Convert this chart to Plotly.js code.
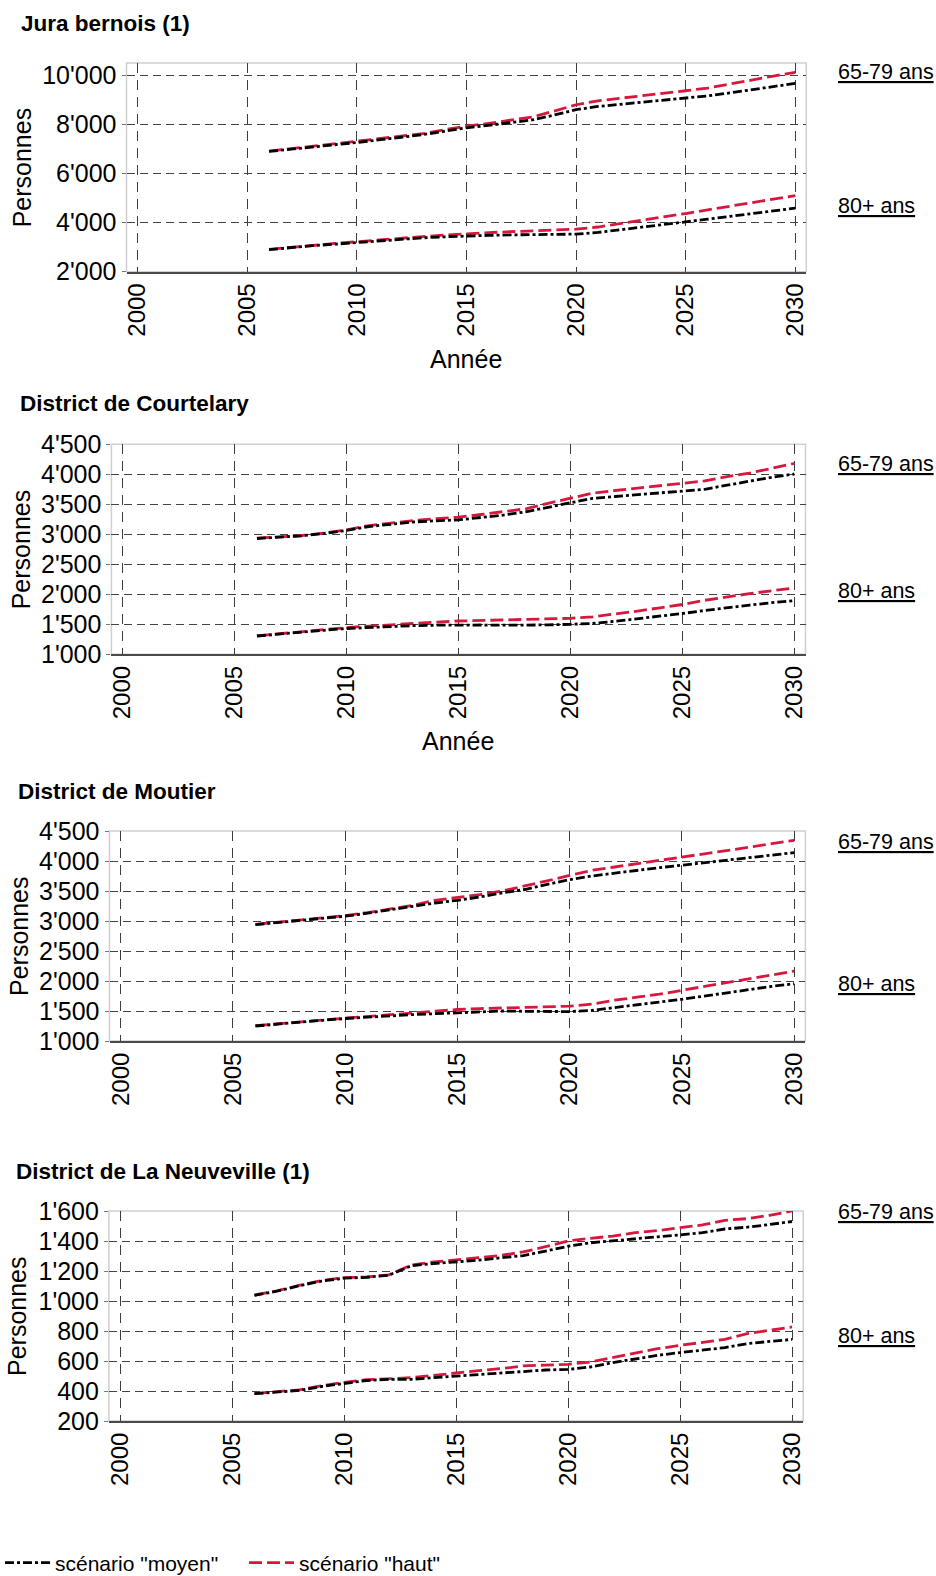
<!DOCTYPE html>
<html>
<head>
<meta charset="utf-8">
<script src="https://cdn.plot.ly/plotly-3.0.1.min.js"></script>
<style>
html,body{margin:0;padding:0;background:#fff;width:936px;height:1576px;overflow:hidden;}
#chart{display:block;width:936px;height:1576px;overflow:hidden;}
</style>
</head>
<body>
<div id="chart"></div>
<script>
// ---------- DATA ----------
const years = [2006,2007,2008,2009,2010,2011,2012,2013,2014,2015,2016,2017,2018,2019,2020,2021,2022,2023,2024,2025,2026,2027,2028,2029,2030];
const regionNames = ["Jura bernois (1)", "District de Courtelary", "District de Moutier", "District de La Neuveville (1)"];
const ageGroups = ["65-79 ans", "80+ ans"];
const scenarioNames = ['scénario "moyen"', 'scénario "haut"'];
const xTickVals = [2000, 2005, 2010, 2015, 2020, 2025, 2030];

// Jura bernois
const jura_6579_moyen = [6900,7000,7080,7170,7260,7360,7460,7580,7720,7860,7960,8060,8180,8380,8600,8730,8810,8890,8970,9060,9160,9280,9400,9530,9670];
const jura_6579_haut  = [6910,7010,7100,7190,7290,7390,7500,7620,7780,7930,8040,8160,8300,8540,8800,8960,9060,9150,9250,9370,9480,9630,9800,9970,10120];
const jura_80_moyen   = [2900,2990,3060,3120,3190,3260,3320,3380,3420,3460,3480,3500,3510,3520,3530,3600,3700,3800,3910,4030,4140,4260,4370,4480,4590];
const jura_80_haut    = [2910,3000,3080,3150,3220,3300,3370,3430,3490,3550,3590,3630,3670,3700,3730,3820,3950,4080,4220,4370,4520,4670,4820,4960,5100];

// District de Courtelary
const court_6579_moyen = [2930,2950,2975,3015,3065,3130,3170,3205,3225,3240,3280,3320,3375,3450,3515,3600,3630,3660,3690,3720,3750,3820,3890,3950,4005];
const court_6579_haut  = [2935,2955,2980,3020,3075,3145,3190,3230,3260,3285,3330,3380,3425,3515,3600,3685,3730,3770,3810,3850,3890,3960,4020,4100,4180];
const court_80_moyen   = [1305,1340,1375,1400,1430,1450,1465,1478,1485,1490,1488,1485,1483,1490,1500,1515,1550,1590,1635,1680,1730,1780,1820,1860,1895];
const court_80_haut    = [1308,1345,1380,1410,1445,1470,1495,1515,1535,1555,1565,1575,1585,1593,1600,1625,1670,1720,1775,1830,1900,1960,2010,2060,2105];

// District de Moutier
const mout_6579_moyen = [2940,2975,3010,3045,3080,3130,3190,3250,3300,3345,3400,3470,3525,3610,3690,3750,3800,3845,3890,3930,3970,4010,4050,4095,4140];
const mout_6579_haut  = [2945,2980,3015,3050,3090,3140,3200,3260,3345,3390,3440,3500,3580,3670,3760,3845,3900,3955,4005,4055,4110,4170,4230,4290,4345];
const mout_80_moyen   = [1250,1285,1315,1345,1375,1400,1420,1440,1455,1470,1490,1500,1495,1490,1490,1510,1560,1610,1650,1695,1750,1810,1860,1910,1955];
const mout_80_haut    = [1255,1290,1320,1350,1380,1410,1435,1465,1500,1525,1540,1550,1560,1570,1580,1615,1680,1730,1780,1845,1910,1980,2040,2100,2165];

// District de La Neuveville
const neuv_6579_moyen = [1038,1065,1102,1133,1152,1158,1172,1235,1250,1260,1272,1288,1303,1333,1365,1388,1403,1418,1428,1440,1456,1480,1492,1510,1530];
const neuv_6579_haut  = [1040,1067,1104,1136,1156,1160,1174,1240,1260,1277,1289,1304,1327,1362,1400,1418,1433,1456,1469,1489,1507,1538,1549,1571,1600];
const neuv_80_moyen   = [382,393,404,430,452,470,478,478,489,500,511,522,533,540,544,560,589,616,638,656,671,689,716,729,744];
const neuv_80_haut    = [383,395,408,435,458,475,484,489,504,522,536,549,567,573,578,593,622,656,682,704,722,744,782,807,827];

const seriesByRegion = [
  {moyen:[jura_6579_moyen, jura_80_moyen], haut:[jura_6579_haut, jura_80_haut]},
  {moyen:[court_6579_moyen, court_80_moyen], haut:[court_6579_haut, court_80_haut]},
  {moyen:[mout_6579_moyen, mout_80_moyen], haut:[mout_6579_haut, mout_80_haut]},
  {moyen:[neuv_6579_moyen, neuv_80_moyen], haut:[neuv_6579_haut, neuv_80_haut]}
];

// ---------- LAYOUT (pixels) ----------
const W = 936, H = 1576;
const FONT = "Liberation Sans, Arial, Helvetica, sans-serif";
const RED = "#d8173d";
const panels = [
  {x0:126.5, x1:806.3, y0:63,    y1:271.7, yr:[2000,10500], dt:2000, t0:2000, tx:19, ty:23,   px:22, ann:[71.7,206],  annee:359},
  {x0:111.4, x1:805.5, y0:444.3, y1:654.3, yr:[1000,4500],  dt:500,  t0:1000, tx:18, ty:404,  px:21, ann:[464,591],   annee:741},
  {x0:109.5, x1:805.4, y0:831,   y1:1041,  yr:[1000,4500],  dt:500,  t0:1000, tx:16, ty:791,  px:19, ann:[842,984],   annee:null},
  {x0:108.9, x1:803.2, y0:1211,  y1:1421,  yr:[200,1600],   dt:200,  t0:200,  tx:14, ty:1171, px:17, ann:[1212,1336], annee:null}
];

const traces = [];
const layout = {
  width: W, height: H, autosize: false,
  margin: {l:0, r:0, t:0, b:0, pad:0, autoexpand: false},
  paper_bgcolor: "#fff", plot_bgcolor: "#fff",
  font: {family: FONT, color: "#000", size: 20},
  separators: ".'",
  showlegend: true,
  hovermode: false,
  legend: {
    orientation: "h", x: 0.0, xanchor: "left", y: 1 - 1563/H, yanchor: "middle",
    font: {family: FONT, size: 21, color: "#000"},
    traceorder: "normal", entrywidth: 184, itemwidth: 45, bgcolor: "rgba(0,0,0,0)", borderwidth: 0
  },
  annotations: [],
  shapes: []
};

panels.forEach((p, i) => {
  const n = i + 1;
  const xa = "x" + (n === 1 ? "" : n), ya = "y" + (n === 1 ? "" : n);
  const xk = "xaxis" + (n === 1 ? "" : n), yk = "yaxis" + (n === 1 ? "" : n);
  layout[xk] = {
    domain: [p.x0 / W, p.x1 / W], anchor: ya,
    range: [1999.5, 2030.5], tickvals: xTickVals, ticktext: xTickVals.map(String),
    tickangle: -90, tickfont: {family: FONT, size: 24, color: "#000"},
    showgrid: true, gridcolor: "#3c3c3c", gridwidth: 1, griddash: "10px,7px",
    zeroline: false, showline: true, linecolor: "#4a4a4a", linewidth: 2,
    ticks: "", fixedrange: true, automargin: false
  };
  layout[yk] = {
    domain: [1 - p.y1 / H, 1 - p.y0 / H], anchor: xa,
    range: p.yr, tick0: p.t0, dtick: p.dt, tickformat: ",d",
    tickfont: {family: FONT, size: 25, color: "#000"},
    showgrid: true, gridcolor: "#444", gridwidth: 1, griddash: "8px,5px",
    zeroline: false, showline: false,
    ticks: "outside", ticklen: 4, tickcolor: "#777", tickwidth: 1, fixedrange: true, automargin: false
  };
  // light frame around plot area
  layout.shapes.push({type: "rect", xref: xa + " domain", yref: ya + " domain", x0: 0, x1: 1, y0: 0, y1: 1,
    line: {color: "#cfcfcf", width: 1.5}, fillcolor: "rgba(0,0,0,0)", layer: "below"});

  const s = seriesByRegion[i];
  // haut drawn first (below), moyen on top
  for (let g = 0; g < 2; g++) {
    traces.push({
      type: "scatter", mode: "lines", x: years, y: s.haut[g], xaxis: xa, yaxis: ya,
      name: scenarioNames[1], legendgroup: "haut", legendrank: 2,
      showlegend: (i === 0 && g === 0),
      line: {color: RED, width: 2.8, dash: "13px,5px"}
    });
  }
  for (let g = 0; g < 2; g++) {
    traces.push({
      type: "scatter", mode: "lines", x: years, y: s.moyen[g], xaxis: xa, yaxis: ya,
      name: scenarioNames[0], legendgroup: "moyen", legendrank: 1,
      showlegend: (i === 0 && g === 0),
      line: {color: "#000", width: 2.8, dash: "9px,3px,3px,3px"}
    });
  }

  // panel title
  layout.annotations.push({xref: "paper", yref: "paper", x: p.tx / W, y: 1 - p.ty / H,
    xanchor: "left", yanchor: "middle", showarrow: false,
    text: "<b>" + regionNames[i] + "</b>", font: {family: FONT, size: 22.5, color: "#000"}});
  // y-axis title
  layout.annotations.push({xref: "paper", yref: "paper", x: p.px / W, y: 1 - (p.y0 + p.y1) / 2 / H,
    xanchor: "center", yanchor: "middle", showarrow: false, textangle: -90,
    text: "Personnes", font: {family: FONT, size: 25, color: "#000"}});
  // x-axis title
  if (p.annee !== null) {
    layout.annotations.push({xref: "paper", yref: "paper", x: (p.x0 + p.x1) / 2 / W, y: 1 - p.annee / H,
      xanchor: "center", yanchor: "middle", showarrow: false,
      text: "Année", font: {family: FONT, size: 25, color: "#000"}});
  }
  // age group labels
  ageGroups.forEach((a, k) => {
    layout.annotations.push({xref: "paper", yref: "paper", x: 836 / W, y: 1 - p.ann[k] / H,
      xanchor: "left", yanchor: "middle", showarrow: false,
      text: "<u>" + a + "</u>", font: {family: FONT, size: 21.5, color: "#000"}});
  });
});

Plotly.newPlot("chart", traces, layout, {staticPlot: true, displayModeBar: false});
</script>
</body>
</html>
